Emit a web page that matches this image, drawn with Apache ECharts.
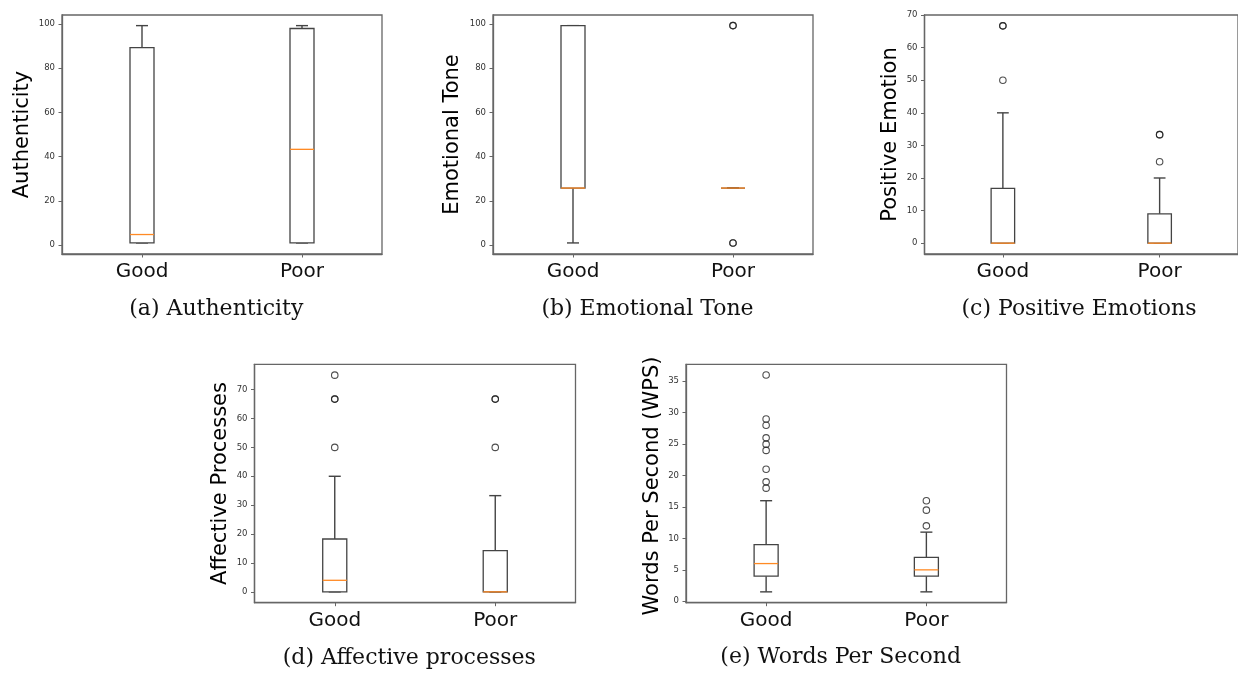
<!DOCTYPE html>
<html><head><meta charset="utf-8">
<script src="https://cdn.jsdelivr.net/npm/echarts@6/dist/echarts.min.js"></script>
<style>html,body{margin:0;padding:0;background:#fff}#c{width:1238px;height:673px}</style>
</head><body><div id="c"></div>
<script>
// ---------- data ----------
const groups = ['Good', 'Poor'];
// box stats per group: [lower whisker, Q1, median, Q3, upper whisker]
const authBox = [[1, 1, 4.8, 89.3, 99.2], [1, 1, 43.3, 97.9, 99.2]];
const authOut = [[], []];
const toneBox = [[1, 25.8, 25.8, 99.2, 99.2], [25.8, 25.8, 25.8, 25.8, 25.8]];
const toneOut = [[], [99.2, 99.2, 1, 1]];
const posBox = [[0, 0, 0, 16.8, 40], [0, 0, 0, 9, 20]];
const posOut = [[66.7, 66.7, 50], [33.3, 33.3, 25]];
const affBox = [[0, 0, 4, 18.3, 40], [0, 0, 0, 14.3, 33.3]];
const affOut = [[75, 66.7, 66.7, 50], [66.7, 66.7, 50]];
const wpsBox = [[1.5, 4, 6, 9, 16], [1.5, 4, 5, 7, 11]];
const wpsOut = [[36, 29, 28, 26, 25, 24, 21, 19, 18], [16, 14.5, 12]];

const authTicks = [0, 20, 40, 60, 80, 100];
const toneTicks = [0, 20, 40, 60, 80, 100];
const posTicks = [0, 10, 20, 30, 40, 50, 60, 70];
const affTicks = [0, 10, 20, 30, 40, 50, 60, 70];
const wpsTicks = [0, 5, 10, 15, 20, 25, 30, 35];

const yNames = ['Authenticity', 'Emotional Tone', 'Positive Emotion', 'Affective Processes', 'Words Per Second (WPS)'];
const captions = ['(a) Authenticity', '(b) Emotional Tone', '(c) Positive Emotions', '(d) Affective processes', '(e) Words Per Second'];

// ---------- layout ----------
const panels = [
  {box: authBox, out: authOut, ticks: authTicks, ymin: -4, ymax: 104, grid: {left: 62, top: 15, width: 320, height: 239}, yl: [23, 134.5], cap: [216.3, 309]},
  {box: toneBox, out: toneOut, ticks: toneTicks, ymin: -4, ymax: 104, grid: {left: 493, top: 15, width: 320, height: 239}, yl: [452.5, 134.5], cap: [647.5, 309]},
  {box: posBox, out: posOut, ticks: posTicks, ymin: -3.33, ymax: 70.03, grid: {left: 924.5, top: 15, width: 320.5, height: 239}, yl: [891, 134.5], cap: [1079, 309]},
  {box: affBox, out: affOut, ticks: affTicks, ymin: -3.75, ymax: 78.75, grid: {left: 254.5, top: 364.3, width: 321, height: 238.4}, yl: [221, 483.5], cap: [409.3, 658]},
  {box: wpsBox, out: wpsOut, ticks: wpsTicks, ymin: -0.225, ymax: 37.7, grid: {left: 686, top: 364.3, width: 320.5, height: 238.4}, yl: [652.5, 486], cap: [840.7, 657]}
];

const LINE = '#444';
const FRAME = '#666';
const MEDIAN = '#ff8a24';

function renderBox(params, api) {
  const xi = api.value(0);
  const v = [api.value(1), api.value(2), api.value(3), api.value(4), api.value(5)];
  const band = api.size([1, 0])[0];
  const bw = band * 0.15;
  const cw = bw / 2;
  const y = v.map(d => api.coord([xi, d])[1]);
  const x = api.coord([xi, v[2]])[0];
  const st = {stroke: LINE, lineWidth: 1.4, fill: null};
  const ln = (x1, y1, x2, y2, style) => ({type: 'line', shape: {x1, y1, x2, y2}, style});
  return {
    type: 'group',
    children: [
      ln(x, y[3], x, y[4], st),
      ln(x, y[1], x, y[0], st),
      ln(x - cw / 2, y[4], x + cw / 2, y[4], st),
      ln(x - cw / 2, y[0], x + cw / 2, y[0], st),
      {type: 'rect', shape: {x: x - bw / 2, y: y[3], width: bw, height: y[1] - y[3]}, style: {stroke: LINE, lineWidth: 1.3, fill: '#fff'}},
      ln(x - bw / 2, y[2], x + bw / 2, y[2], {stroke: MEDIAN, lineWidth: 1.3})
    ]
  };
}

const grid = [], xAxis = [], yAxis = [], series = [], graphic = [];
panels.forEach((p, i) => {
  grid.push(Object.assign({show: true, borderColor: FRAME, borderWidth: 1.3, backgroundColor: 'transparent'}, p.grid));
  xAxis.push({
    type: 'category', gridIndex: i, data: groups, boundaryGap: true, position: 'bottom',
    axisLine: {show: true, onZero: false, lineStyle: {color: FRAME, width: 1.3}},
    axisTick: {show: true, alignWithLabel: true, length: 3.5, lineStyle: {color: FRAME}},
    axisLabel: {fontSize: 20, color: '#111', fontFamily: 'DejaVu Sans', margin: 8, lineHeight: 20},
    splitLine: {show: false}
  });
  yAxis.push({
    type: 'value', gridIndex: i, min: p.ymin, max: p.ymax,
    axisLine: {show: true, onZero: false, lineStyle: {color: FRAME, width: 1.3}},
    axisTick: {show: true, length: 3.5, lineStyle: {color: FRAME}, customValues: p.ticks},
    axisLabel: {fontSize: 8.5, color: '#333', fontFamily: 'DejaVu Sans', margin: 7, customValues: p.ticks},
    splitLine: {show: false}
  });
  series.push({
    type: 'custom', xAxisIndex: i, yAxisIndex: i, renderItem: renderBox,
    data: p.box.map((b, k) => [k].concat(b)), silent: true, z: 2
  });
  const outData = [];
  p.out.forEach((arr, k) => arr.forEach(v => outData.push([k, v])));
  series.push({
    type: 'scatter', xAxisIndex: i, yAxisIndex: i, data: outData,
    symbol: 'circle', symbolSize: 6.5, silent: true, z: 3,
    itemStyle: {color: 'rgba(0,0,0,0)', borderColor: '#222', borderWidth: 1.1}
  });
  graphic.push({
    type: 'text', x: p.yl[0], y: p.yl[1], rotation: Math.PI / 2,
    style: {text: yNames[i], fontSize: 21, fontFamily: 'DejaVu Sans', fill: '#000', align: 'center', verticalAlign: 'middle'}
  });
  graphic.push({
    type: 'text', x: p.cap[0], y: p.cap[1],
    style: {text: captions[i], fontSize: 22, fontFamily: 'DejaVu Serif', fill: '#111', align: 'center', verticalAlign: 'middle'}
  });
});

const chart = echarts.init(document.getElementById('c'), null, {renderer: 'canvas'});
chart.setOption({animation: false, backgroundColor: '#fff', grid, xAxis, yAxis, series, graphic});
</script>
</body></html>
